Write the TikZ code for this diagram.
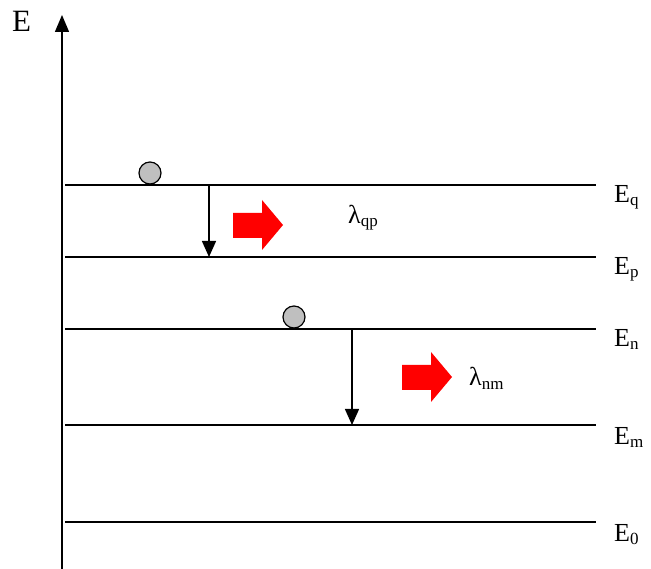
\documentclass[tikz,border=0pt]{standalone}
\usepackage{fontspec}
\setmainfont{Liberation Serif}
\usetikzlibrary{arrows.meta}
\newcommand{\lowsub}[1]{\raisebox{-3pt}{\fontsize{17}{19}\selectfont #1}}
\begin{document}
\begin{tikzpicture}[x=1pt,y=-1pt,
  level/.style={line width=1.3pt},
  lbl/.style={font=\fontsize{26}{29}\selectfont, inner sep=0pt, anchor=base west},
  ball/.style={circle, draw=black, line width=1.2pt, fill=black!25, minimum size=22pt, inner sep=0pt},
  trans/.style={line width=1.4pt, -{Triangle[length=16pt,width=14pt]}},
]
\useasboundingbox (0,0) rectangle (651,569);
% axis
\coordinate (ab) at (62,569);
\coordinate (at) at (62,15);
\draw[line width=1.5pt, -{Triangle[length=17pt,width=14pt]}] (ab) -- (at);
\node[lbl, font=\fontsize{31}{34}\selectfont] (E) at (12,32) {E};
% levels
\foreach \n/\y in {q/185,p/257,n/329,m/425,z/522}{
  \coordinate (L\n a) at (65,\y);
  \coordinate (L\n b) at (596,\y);
  \draw[level] (L\n a) -- (L\n b);
}
\node[lbl] (Eq) at (614,203) {E\lowsub{q}};
\node[lbl] (Ep) at (614,275) {E\lowsub{p}};
\node[lbl] (En) at (614,347) {E\lowsub{n}};
\node[lbl] (Em) at (614,444) {E\lowsub{m}};
\node[lbl] (E0) at (614,541) {E\lowsub{0}};
% balls
\node[ball] (b1) at (150,173) {};
\node[ball] (b2) at (294,317) {};
% transitions
\coordinate (t1a) at (209,185);
\coordinate (t1b) at (209,257);
\draw[trans] (t1a) -- (t1b);
\coordinate (t2a) at (352,329);
\coordinate (t2b) at (352,425);
\draw[trans] (t2a) -- (t2b);
% photons
\fill[red] (233,213) -- (262,213) -- (262,200) -- (283,225) -- (262,250) -- (262,238) -- (233,238) -- cycle;
\fill[red] (402,365) -- (431,365) -- (431,352) -- (452,377) -- (431,402) -- (431,390) -- (402,390) -- cycle;
\node[lbl] (lqp) at (348,224) {λ\lowsub{qp}};
\node[lbl] (lnm) at (469,386) {λ\lowsub{nm}};
\end{tikzpicture}
\end{document}
